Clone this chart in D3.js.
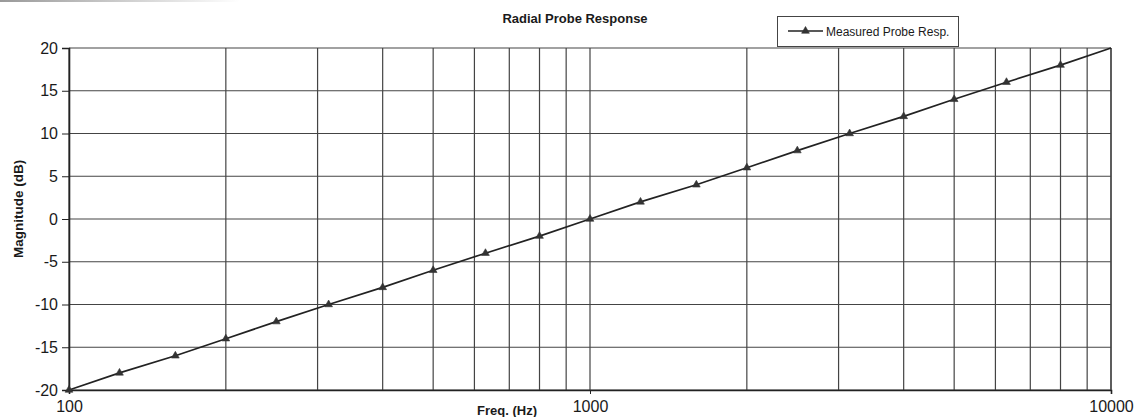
<!DOCTYPE html>
<html>
<head>
<meta charset="utf-8">
<script src="https://cdn.jsdelivr.net/npm/d3@7"></script>
<style>
  html, body { margin: 0; padding: 0; background: #fff; }
  svg { display: block; font-family: "Liberation Sans", Arial, sans-serif; }
</style>
</head>
<body>
<svg id="chart" width="1135" height="417"></svg>
<script>
// Measured probe response, 1/3-octave points
const freqHz = [100, 125, 160, 200, 250, 315, 400, 500, 630, 800, 1000,
                1250, 1600, 2000, 2500, 3150, 4000, 5000, 6300, 8000, 10000];
const magnitudeDb = [-20, -18, -16, -14, -12, -10, -8, -6, -4, -2, 0,
                     2, 4, 6, 8, 10, 12, 14, 16, 18, 20];
const yTicks = [-20, -15, -10, -5, 0, 5, 10, 15, 20];
const xLabelTicks = [100, 1000, 10000];
const xGridTicks = [100, 200, 300, 400, 500, 600, 700, 800, 900, 1000,
                    2000, 3000, 4000, 5000, 6000, 7000, 8000, 9000, 10000];
const seriesName = "Measured Probe Resp.";

const svg = d3.select("#chart");
const plotL = 69, plotR = 1111, plotT = 48, plotB = 390;

const x = d3.scaleLog().domain([100, 10000]).range([plotL, plotR]);
const y = d3.scaleLinear().domain([-20, 20]).range([plotB, plotT]);

// faint scan edge along the top
const grad = svg.append("defs").append("linearGradient").attr("id", "edge");
grad.append("stop").attr("offset", 0).attr("stop-color", "#999");
grad.append("stop").attr("offset", 1).attr("stop-color", "#fff");
svg.append("rect").attr("x", 0).attr("y", 0).attr("width", 240).attr("height", 2)
  .attr("fill", "url(#edge)");

// grid
svg.append("g").selectAll("line").data(xGridTicks).join("line")
  .attr("x1", d => x(d)).attr("x2", d => x(d))
  .attr("y1", plotT).attr("y2", plotB)
  .attr("stroke", "#444").attr("stroke-width", 1.2);
svg.append("g").selectAll("line").data(yTicks).join("line")
  .attr("x1", plotL).attr("x2", plotR)
  .attr("y1", d => y(d)).attr("y2", d => y(d))
  .attr("stroke", "#444").attr("stroke-width", 1.2);

// axes (plain hyphen for negatives)
const plain = d => String(d);
const yAxis = d3.axisLeft(y).tickValues(yTicks).tickFormat(plain).tickSize(7).tickPadding(4);
const gy = svg.append("g").attr("transform", `translate(${plotL},0)`).call(yAxis);
gy.select(".domain").attr("stroke", "#222").attr("stroke-width", 1.6);
gy.selectAll(".tick line").attr("stroke", "#222");
gy.selectAll("text").attr("font-size", 16).attr("fill", "#1a1a1a");

const xAxis = d3.axisBottom(x).tickValues(xLabelTicks).tickFormat(plain)
  .tickSize(4).tickPadding(7);
const gx = svg.append("g").attr("transform", `translate(0,${plotB})`).call(xAxis);
gx.select(".domain").attr("stroke", "#222").attr("stroke-width", 1.6);
gx.selectAll(".tick line").attr("stroke", "#222");
gx.selectAll("text").attr("font-size", 16).attr("fill", "#1a1a1a");

// right border
svg.append("line").attr("x1", plotR).attr("x2", plotR).attr("y1", plotT).attr("y2", plotB)
  .attr("stroke", "#444").attr("stroke-width", 1.3);

// series
const pts = freqHz.map((f, i) => ({ f, m: magnitudeDb[i] }));
svg.append("path").datum(pts)
  .attr("fill", "none").attr("stroke", "#222").attr("stroke-width", 1.7)
  .attr("d", d3.line().x(d => x(d.f)).y(d => y(d.m)));

const tri = d3.symbol().type(d3.symbolTriangle).size(26);
svg.append("g").selectAll("path").data(pts.filter(d => d.f < 10000)).join("path")
  .attr("transform", d => `translate(${x(d.f)},${y(d.m)})`)
  .attr("d", tri).attr("fill", "#333").attr("stroke", "#333").attr("stroke-width", 0.6);

// titles
svg.append("text").attr("x", 575).attr("y", 23).attr("text-anchor", "middle")
  .attr("font-size", 13).attr("font-weight", "bold").attr("fill", "#1a1a1a")
  .text("Radial Probe Response");
svg.append("text").attr("x", 507).attr("y", 415).attr("text-anchor", "middle")
  .attr("font-size", 13).attr("font-weight", "bold").attr("fill", "#1a1a1a")
  .text("Freq. (Hz)");
svg.append("text").attr("transform", "translate(23,209) rotate(-90)")
  .attr("text-anchor", "middle")
  .attr("font-size", 13.5).attr("font-weight", "bold").attr("fill", "#1a1a1a")
  .text("Magnitude (dB)");

// legend
const lg = svg.append("g");
lg.append("rect").attr("x", 777.5).attr("y", 16.5).attr("width", 181).attr("height", 30)
  .attr("fill", "#fff").attr("stroke", "#444").attr("stroke-width", 1);
lg.append("line").attr("x1", 788).attr("x2", 823).attr("y1", 31).attr("y2", 31)
  .attr("stroke", "#222").attr("stroke-width", 1.6);
lg.append("path").attr("transform", "translate(805.5,31)").attr("d", tri)
  .attr("fill", "#333").attr("stroke", "#333").attr("stroke-width", 0.6);
lg.append("text").attr("x", 826).attr("y", 35.5).attr("font-size", 12).attr("fill", "#1a1a1a")
  .text(seriesName);
</script>
</body>
</html>
